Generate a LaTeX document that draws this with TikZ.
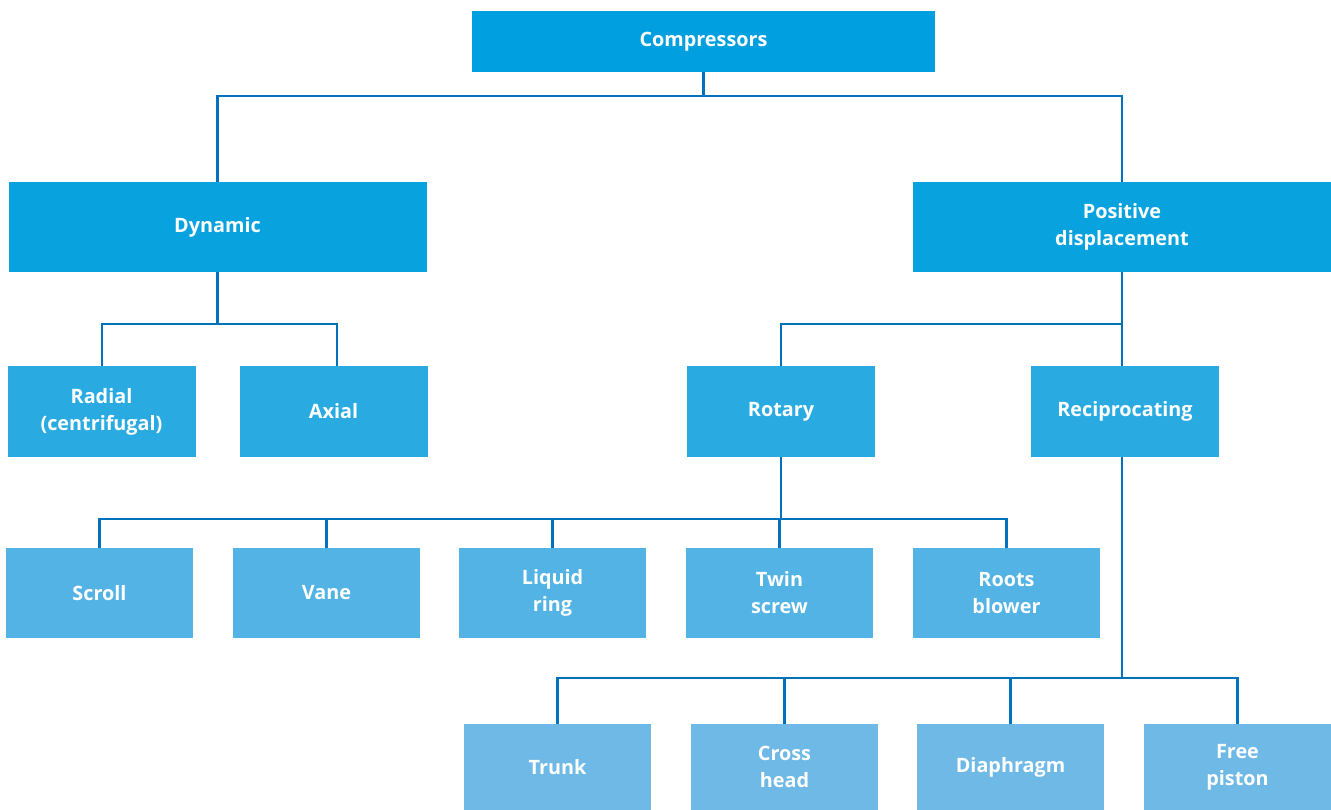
\documentclass[tikz,border=0pt]{standalone}
\usepackage{fontspec}
\setmainfont{Open Sans}
\definecolor{cA}{RGB}{0,159,223}
\definecolor{cB}{RGB}{8,163,222}
\definecolor{cC}{RGB}{41,171,226}
\definecolor{cD}{RGB}{82,179,228}
\definecolor{cE}{RGB}{110,185,230}
\definecolor{ln}{RGB}{0,114,188}
\begin{document}
\begin{tikzpicture}[x=1pt,y=-1pt,
  box/.style={rectangle,inner sep=0pt,text=white,align=center,
    font=\fontsize{19.8}{27}\selectfont\bfseries},
  lv1/.style={box,fill=cA,minimum width=463pt,minimum height=61pt},
  lv2/.style={box,fill=cB,minimum width=418pt,minimum height=90pt},
  lv3/.style={box,fill=cC,minimum width=188pt,minimum height=91pt},
  lv4/.style={box,fill=cD,minimum width=187pt,minimum height=90pt},
  lv5/.style={box,fill=cE,minimum width=187pt,minimum height=86pt},
  conn/.style={draw=ln,line width=2.3pt}]
\useasboundingbox (0,0) rectangle (1331,810);
\node[lv1] (comp) at (703.5,41.5) {Compressors};
\node[lv2] (dyn) at (217.5,227) {Dynamic};
\node[lv2] (pos) at (1122,227) {Positive\\displacement};
\node[lv3] (rad) at (101.5,411.5) {Radial\\(centrifugal)};
\node[lv3] (axi) at (333.5,411.5) {Axial};
\node[lv3] (rot) at (781,411.5) {Rotary};
\node[lv3] (rec) at (1125,411.5) {Reciprocating};
\node[lv4] (scr) at (99.5,593) {Scroll};
\node[lv4] (van) at (326.5,593) {Vane};
\node[lv4] (liq) at (552.5,593) {Liquid\\ring};
\node[lv4] (twi) at (779.5,593) {Twin\\screw};
\node[lv4] (roo) at (1006.5,593) {Roots\\blower};
\node[lv5] (tru) at (557.5,767) {Trunk};
\node[lv5] (cro) at (784.5,767) {Cross\\head};
\node[lv5] (dia) at (1010.5,767) {Diaphragm};
\node[lv5] (fre) at (1237.5,767) {Free\\piston};
% junctions
\coordinate (j1) at (703.5,96);
\coordinate (j2) at (217.5,324);
\coordinate (j3) at (1122,324);
\coordinate (j4) at (781,519);
\coordinate (j5) at (1122,678);
\draw[conn] (comp.south) -- (j1);
\draw[conn] (dyn.north) |- (j1) -| (pos.north);
\draw[conn] (dyn.south) -- (j2);
\draw[conn] ([xshift=0.5pt]rad.north) |- (j2) -| ([xshift=3.5pt]axi.north);
\draw[conn] (pos.south) -- (j3);
\draw[conn] (rot.north) |- (j3) -- (j3 |- rec.north);
\draw[conn] (rot.south) -- (j4);
\draw[conn] (scr.north) |- (j4) -| (roo.north);
\draw[conn] (van.north) -- (van.north |- j4);
\draw[conn] (liq.north) -- (liq.north |- j4);
\draw[conn] (twi.north) -- (twi.north |- j4);
\draw[conn] (j5 |- rec.south) -- (j5);
\draw[conn] (tru.north) |- (j5) -| (fre.north);
\draw[conn] (cro.north) -- (cro.north |- j5);
\draw[conn] (dia.north) -- (dia.north |- j5);
\end{tikzpicture}
\end{document}
